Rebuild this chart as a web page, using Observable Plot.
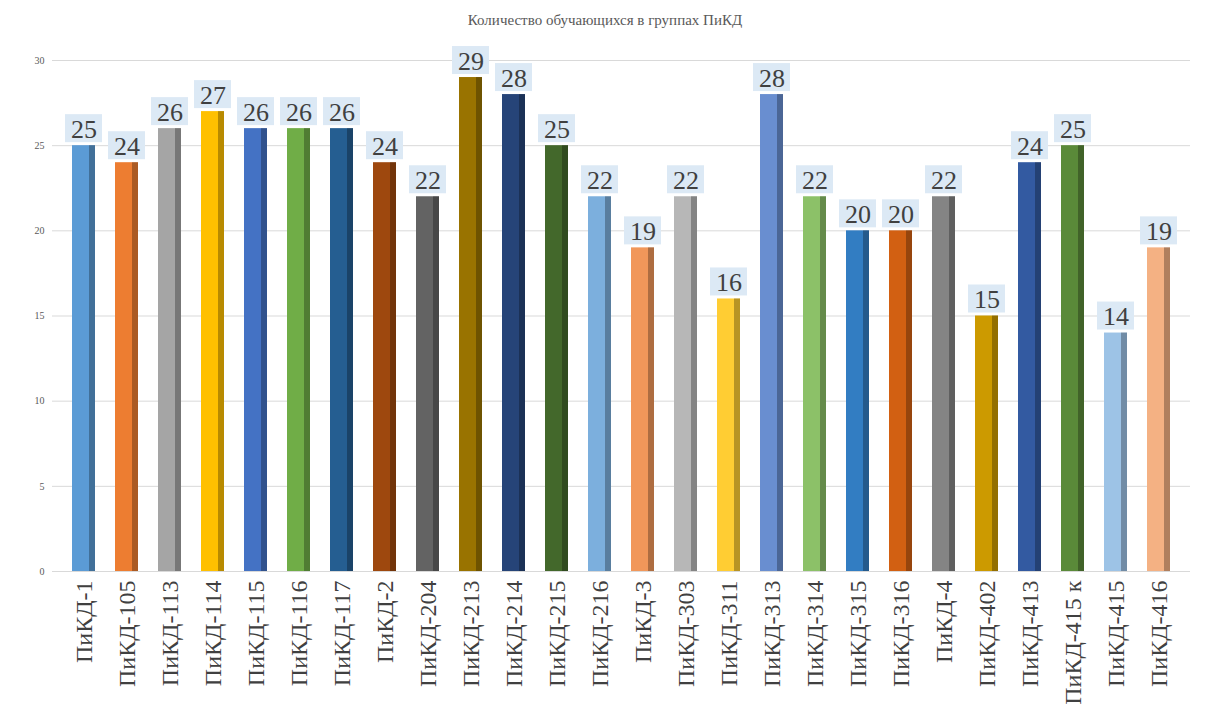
<!DOCTYPE html>
<html><head><meta charset="utf-8">
<script src="https://cdn.jsdelivr.net/npm/d3@7"></script>
<script src="https://cdn.jsdelivr.net/npm/@observablehq/plot@0.6"></script>
<style>
html,body{margin:0;padding:0;background:#fff;}
#title{height:36px;line-height:40px;text-align:center;font-family:'Liberation Serif',serif;font-size:15px;color:#595959;}
#chart svg, #chart svg text{font-family:'Liberation Serif',serif !important;}
</style>
</head><body>
<div id="title">Количество обучающихся в группах ПиКД</div>
<div id="chart"></div>
<script>
const groups = ["ПиКД-1","ПиКД-105","ПиКД-113","ПиКД-114","ПиКД-115","ПиКД-116","ПиКД-117","ПиКД-2","ПиКД-204","ПиКД-213","ПиКД-214","ПиКД-215","ПиКД-216","ПиКД-3","ПиКД-303","ПиКД-311","ПиКД-313","ПиКД-314","ПиКД-315","ПиКД-316","ПиКД-4","ПиКД-402","ПиКД-413","ПиКД-415 к","ПиКД-415","ПиКД-416"];
const students = [25,24,26,27,26,26,26,24,22,29,28,25,22,19,22,16,28,22,20,20,22,15,24,25,14,19];
const colors = ["#5B9BD5","#ED7D31","#A5A5A5","#FFC000","#4472C4","#70AD47","#255E91","#9E480E","#636363","#997300","#264478","#43682B","#7CAFDD","#F1975A","#B7B7B7","#FFCD33","#698ED0","#8CC168","#327DC2","#D26012","#848484","#CC9A00","#335AA1","#5A8A39","#9DC3E6","#F4B183"];
const yTicks = [0,5,10,15,20,25,30];

const data = groups.map((g,i)=>({group:g, value:students[i], color:colors[i]}));
const FF = "Liberation Serif";

const chart = Plot.plot({
  width: 1210,
  height: 673,
  marginTop: 24,
  marginBottom: 138,
  marginLeft: 52,
  marginRight: 20,
  x: {domain: groups, padding: 0.465, label: null},
  y: {domain: [0,30], ticks: yTicks, label: null},
  style: {background: "#fff"},
  marks: [
    Plot.gridY(yTicks, {stroke: "#d9d9d9", strokeOpacity: 1}),
    Plot.axisY({ticks: yTicks, tickSize: 0, tickPadding: 8, fontSize: 10, fill: "#595959", fontFamily: FF}),
    Plot.axisX({tickSize: 0, tickPadding: 9, tickRotate: -90, fontSize: 24, fill: "#404040", fontFamily: FF}),
    Plot.barY(data, {x: "group", y: "value", fill: "color"}),
    Plot.barY(data, {x: "group", y: "value", fill: "#000", fillOpacity: 0.28, insetLeft: 17}),
    Plot.rect(data, {x: "group", y1: "value", y2: "value", fill: "#dce9f5", insetLeft: -7, insetRight: -7, insetTop: -31, insetBottom: 3}),
    Plot.text(data, {x: "group", y: "value", text: d => String(d.value), dy: -16, fontSize: 26, fill: "#404040", fontFamily: FF})
  ]
});
document.getElementById("chart").append(chart);
</script>
</body></html>
